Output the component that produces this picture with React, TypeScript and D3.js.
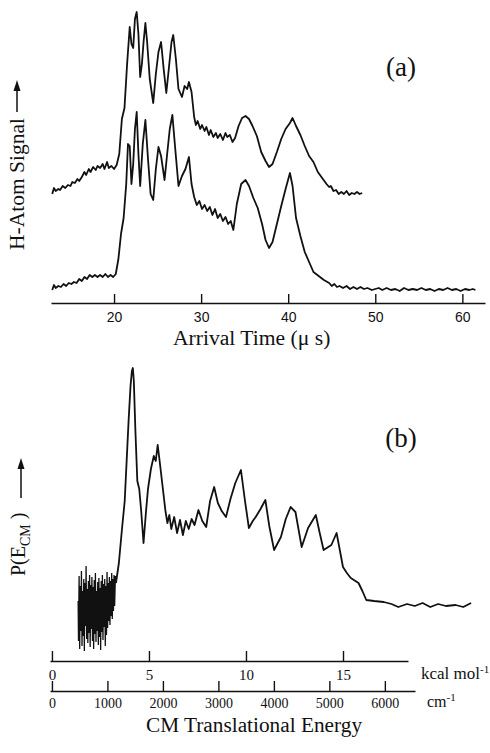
import React, { useRef, useEffect } from 'react';
import * as d3 from 'd3';

const WIDTH = 490;
const HEIGHT = 753;

// panel (a): arrival time (us) vs H-atom signal (arb. units), two traces
const upperTrace: [number, number][] = [
  [12.9, 110], [13.1, 116], [13.3, 113], [13.6, 115], [13.8, 114], [14.1, 118], [14.4, 116],
  [14.7, 119], [15.0, 118], [15.2, 122], [15.5, 121], [15.8, 125], [16.0, 123], [16.3, 127],
  [16.6, 132], [16.8, 129], [17.1, 135], [17.3, 132], [17.6, 137], [17.9, 134], [18.1, 138],
  [18.4, 136], [18.7, 140], [18.9, 135], [19.2, 142], [19.4, 136], [19.7, 138], [20.0, 135],
  [20.3, 139], [20.6, 150], [20.9, 185], [21.2, 196], [21.5, 240], [21.8, 277], [22.0, 260],
  [22.2, 256], [22.4, 285], [22.6, 292], [22.8, 270], [23.0, 227], [23.2, 240], [23.4, 263],
  [23.6, 281], [23.8, 262], [24.1, 225], [24.5, 201], [24.8, 230], [25.1, 252], [25.4, 262],
  [25.7, 235], [26.0, 211], [26.3, 236], [26.6, 262], [26.8, 269], [27.1, 245], [27.4, 215],
  [27.8, 207], [28.1, 218], [28.4, 215], [28.6, 222], [28.9, 212], [29.2, 187], [29.4, 179],
  [29.6, 183], [29.9, 175], [30.1, 179], [30.4, 173], [30.6, 177], [30.9, 169], [31.1, 174],
  [31.4, 167], [31.7, 171], [31.9, 166], [32.2, 170], [32.5, 164], [32.8, 171], [33.0, 167],
  [33.3, 169], [33.6, 162], [33.9, 166], [34.3, 178], [34.7, 186], [35.1, 188], [35.5, 185],
  [35.9, 178], [36.4, 168], [36.9, 152], [37.4, 143], [37.8, 137], [38.2, 140], [38.7, 152],
  [39.2, 165], [39.7, 175], [40.2, 181], [40.5, 186], [40.9, 178], [41.4, 169], [41.9, 158],
  [42.4, 148], [42.9, 142], [43.4, 132], [43.9, 126], [44.4, 120], [44.7, 117], [44.9, 118],
  [45.2, 113], [45.5, 114], [45.8, 110], [46.1, 112], [46.4, 110], [46.7, 113], [47.0, 109],
  [47.3, 111], [47.6, 110], [47.9, 112], [48.2, 110], [48.5, 111],
];

const lowerTrace: [number, number][] = [
  [12.9, 14], [13.1, 19], [13.3, 16], [13.6, 18], [13.9, 17], [14.2, 20], [14.5, 18], [14.8, 21],
  [15.1, 20], [15.4, 22], [15.7, 21], [16.0, 25], [16.3, 23], [16.6, 27], [16.9, 25], [17.2, 29],
  [17.5, 27], [17.8, 29], [18.1, 27], [18.4, 29], [18.7, 27], [19.0, 30], [19.3, 27], [19.6, 29],
  [19.9, 27], [20.2, 30], [20.5, 45], [20.8, 70], [21.1, 86], [21.4, 120], [21.6, 160], [21.8, 158],
  [22.0, 120], [22.2, 140], [22.4, 175], [22.6, 192], [22.8, 150], [23.0, 118], [23.3, 160],
  [23.6, 184], [23.9, 145], [24.2, 110], [24.5, 104], [24.8, 135], [25.1, 157], [25.4, 148],
  [25.8, 124], [26.1, 150], [26.4, 175], [26.7, 189], [27.0, 158], [27.4, 118], [27.8, 128],
  [28.2, 135], [28.6, 147], [28.9, 120], [29.2, 107], [29.5, 99], [29.8, 103], [30.1, 95],
  [30.4, 99], [30.7, 93], [31.0, 97], [31.3, 89], [31.6, 95], [31.9, 86], [32.2, 90], [32.5, 83],
  [32.8, 87], [33.1, 80], [33.4, 83], [33.7, 74], [34.1, 100], [34.6, 120], [35.1, 124], [35.5, 118],
  [36.0, 106], [36.5, 96], [37.0, 80], [37.4, 64], [37.8, 56], [38.2, 62], [38.7, 80], [39.2, 98],
  [39.7, 115], [40.2, 131], [40.5, 118], [40.9, 86], [41.4, 68], [41.9, 52], [42.4, 42], [42.9, 32],
  [43.5, 28], [44.1, 24], [44.7, 21], [45.0, 18], [45.3, 20], [45.6, 17], [45.9, 18], [46.3, 16],
  [46.7, 18], [47.1, 15], [47.5, 17], [47.9, 15], [48.3, 17], [48.7, 15], [49.1, 16], [49.6, 14],
  [50.0, 15], [50.4, 16], [50.8, 14], [51.3, 16], [51.8, 14], [52.3, 15], [52.8, 13], [53.3, 16],
  [53.8, 14], [54.3, 15], [54.8, 14], [55.3, 16], [55.8, 14], [56.3, 15], [56.8, 13], [57.3, 15],
  [57.8, 14], [58.3, 16], [58.8, 14], [59.3, 15], [59.8, 13], [60.3, 15], [60.8, 14], [61.2, 15],
  [61.5, 14],
];

const timeTicks = [20, 30, 40, 50, 60];

// panel (b): P(E_CM) vs kcal/mol; the low-energy part is very noisy
const pNoisy: [number, number][] = [
  [1.35, 60], [1.37, 20], [1.40, 85], [1.43, 12], [1.46, 75], [1.49, 30], [1.52, 90], [1.55, 15],
  [1.58, 70], [1.61, 25], [1.64, 82], [1.67, 10], [1.70, 78], [1.73, 35], [1.76, 95], [1.79, 22],
  [1.82, 72], [1.85, 18], [1.88, 80], [1.91, 28], [1.94, 86], [1.97, 14], [2.00, 76], [2.03, 32],
  [2.06, 84], [2.09, 20], [2.12, 74], [2.15, 12], [2.18, 81], [2.21, 27], [2.24, 88], [2.27, 19],
  [2.30, 70], [2.33, 30], [2.36, 79], [2.39, 16], [2.42, 83], [2.45, 24], [2.48, 73], [2.51, 11],
  [2.54, 80], [2.57, 29], [2.60, 86], [2.63, 21], [2.66, 77], [2.69, 34], [2.72, 82], [2.75, 15],
  [2.78, 75], [2.81, 26], [2.84, 89], [2.87, 33], [2.90, 78], [2.93, 40], [2.96, 84], [2.99, 36],
  [3.02, 80], [3.05, 45], [3.08, 88], [3.11, 42], [3.14, 82], [3.17, 50], [3.20, 86], [3.23, 55],
  [3.27, 85],
];

const pMain: [number, number][] = [
  [3.3, 78], [3.45, 98], [3.6, 130], [3.75, 160], [3.85, 200], [3.95, 240], [4.05, 275], [4.12, 290],
  [4.17, 293], [4.22, 280], [4.3, 231], [4.4, 180], [4.5, 172], [4.6, 150], [4.72, 118], [4.85, 150],
  [4.95, 172], [5.1, 192], [5.25, 205], [5.35, 200], [5.45, 216], [5.55, 200], [5.7, 175], [5.85, 150],
  [5.95, 138], [6.05, 146], [6.15, 132], [6.3, 144], [6.45, 128], [6.6, 141], [6.75, 126], [6.9, 140],
  [7.05, 132], [7.2, 142], [7.35, 136], [7.55, 151], [7.75, 140], [7.95, 134], [8.15, 160], [8.36, 174],
  [8.55, 158], [8.75, 150], [8.97, 144], [9.2, 162], [9.45, 178], [9.74, 191], [9.95, 160], [10.15, 133],
  [10.35, 140], [10.5, 144], [10.75, 152], [11.0, 161], [11.2, 135], [11.45, 111], [11.8, 124],
  [12.05, 142], [12.3, 154], [12.55, 149], [12.87, 114], [13.2, 133], [13.6, 146], [13.8, 128],
  [14.0, 111], [14.4, 116], [14.67, 128], [15.0, 94], [15.2, 88], [15.4, 83], [15.8, 78], [16.0, 70],
  [16.2, 61], [16.6, 60], [17.1, 59], [17.5, 57], [17.85, 54], [18.3, 57], [18.7, 55], [19.1, 58],
  [19.5, 54], [19.9, 57], [20.3, 55], [20.8, 56], [21.2, 54], [21.6, 58],
];

const kcalTicks = [0, 5, 10, 15];
const cmTicks = [0, 1000, 2000, 3000, 4000, 5000, 6000];
const KCAL_TO_CM = 349.755;

const INK = '#111';
const SERIF = "'Liberation Serif', 'Times New Roman', serif";
const SANS = "'Liberation Sans', Arial, sans-serif";

const App = () => {
  const ref = useRef<SVGSVGElement>(null);

  useEffect(() => {
    const svg = d3.select(ref.current);
    svg.selectAll('*').remove();
    svg.append('rect').attr('width', WIDTH).attr('height', HEIGHT).attr('fill', '#fff');

    const styleAxis = (g, family, size) => {
      g.attr('font-family', family).attr('font-size', size);
      g.select('.domain').attr('stroke', INK).attr('stroke-width', 1.6);
      g.selectAll('.tick line').attr('stroke', INK).attr('stroke-width', 1.4);
      g.selectAll('.tick text').attr('fill', INK);
    };

    // ---- panel (a)
    const xA = d3.scaleLinear().domain([12.76, 62.6]).range([51, 485]);
    const yA = d3.scaleLinear().domain([0, 300]).range([304, 4]);
    const lineA = d3.line<[number, number]>().x((d) => xA(d[0])).y((d) => yA(d[1]));

    [upperTrace, lowerTrace].forEach((tr) => {
      svg.append('path').datum(tr).attr('d', lineA).attr('fill', 'none')
        .attr('stroke', INK).attr('stroke-width', 1.8).attr('stroke-linejoin', 'round');
    });

    const axA = svg.append('g').attr('transform', 'translate(0,303)')
      .call(d3.axisBottom(xA).tickValues(timeTicks).tickSizeInner(-9).tickSizeOuter(0)
        .tickPadding(9).tickFormat(d3.format('d')));
    styleAxis(axA, SANS, 14);

    svg.append('text').attr('x', 173).attr('y', 345).attr('font-family', SERIF)
      .attr('font-size', 21.6).attr('fill', INK).text('Arrival Time (\u03bc s)');

    svg.append('text').attr('x', 401).attr('y', 76).attr('text-anchor', 'middle')
      .attr('font-family', SERIF).attr('font-size', 27).attr('fill', INK).text('(a)');

    svg.append('text').attr('transform', 'translate(24,250) rotate(-90)')
      .attr('font-family', SERIF).attr('font-size', 21.5).attr('fill', INK).text('H-Atom Signal');

    const arrow = (cx, y0, y1) => {
      svg.append('line').attr('x1', cx).attr('x2', cx).attr('y1', y0).attr('y2', y1 + 8)
        .attr('stroke', INK).attr('stroke-width', 1.5);
      svg.append('path')
        .attr('d', `M${cx},${y1} L${cx - 3.5},${y1 + 11} L${cx + 3.5},${y1 + 11} Z`)
        .attr('fill', INK);
    };
    arrow(17, 112, 80);

    // ---- panel (b)
    const xB = d3.scaleLinear().domain([-0.1, 18.35]).range([50, 408]);
    const xCm = d3.scaleLinear()
      .domain([-0.1 * KCAL_TO_CM, 18.35 * KCAL_TO_CM * (415 - 50) / (408 - 50)])
      .range([50, 415]);
    const yB = d3.scaleLinear().domain([0, 320]).range([661, 341]);
    const lineB = d3.line<[number, number]>().x((d) => xB(d[0])).y((d) => yB(d[1]));

    svg.append('path').datum(pNoisy).attr('d', lineB).attr('fill', 'none')
      .attr('stroke', INK).attr('stroke-width', 1.3);
    svg.append('path').datum(pMain).attr('d', lineB).attr('fill', 'none')
      .attr('stroke', INK).attr('stroke-width', 1.8).attr('stroke-linejoin', 'round');

    const axK = svg.append('g').attr('transform', 'translate(0,661)')
      .call(d3.axisBottom(xB).tickValues(kcalTicks).tickSizeInner(-10).tickSizeOuter(0)
        .tickPadding(8).tickFormat(d3.format('d')));
    styleAxis(axK, SERIF, 15);

    const axC = svg.append('g').attr('transform', 'translate(0,691)')
      .call(d3.axisBottom(xCm).tickValues(cmTicks).tickSizeInner(-10).tickSizeOuter(0)
        .tickPadding(7).tickFormat(d3.format('d')));
    styleAxis(axC, SERIF, 14);

    const unitK = svg.append('text').attr('x', 421).attr('y', 679).attr('font-family', SERIF)
      .attr('font-size', 17).attr('fill', INK);
    unitK.append('tspan').text('kcal mol');
    unitK.append('tspan').attr('dy', -6).attr('font-size', 11).text('-1');

    const unitC = svg.append('text').attr('x', 427).attr('y', 707).attr('font-family', SERIF)
      .attr('font-size', 16).attr('fill', INK);
    unitC.append('tspan').text('cm');
    unitC.append('tspan').attr('dy', -6).attr('font-size', 11).text('-1');

    svg.append('text').attr('x', 254).attr('y', 732).attr('text-anchor', 'middle')
      .attr('font-family', SERIF).attr('font-size', 21.3).attr('fill', INK)
      .text('CM Translational Energy');

    svg.append('text').attr('x', 401).attr('y', 447).attr('text-anchor', 'middle')
      .attr('font-family', SERIF).attr('font-size', 27).attr('fill', INK).text('(b)');

    const pl = svg.append('text').attr('transform', 'translate(25,576) rotate(-90)')
      .attr('font-family', SERIF).attr('font-size', 20).attr('fill', INK);
    pl.append('tspan').text('P(E');
    pl.append('tspan').attr('dy', 5).attr('font-size', 14).text('CM');
    pl.append('tspan').attr('dy', -5).text(' )');
    arrow(21, 498, 458);
  }, []);

  return (
    <svg ref={ref} width={WIDTH} height={HEIGHT}
      style={{ position: 'absolute', left: 0, top: 0, display: 'block' }} />
  );
};

export default App;
